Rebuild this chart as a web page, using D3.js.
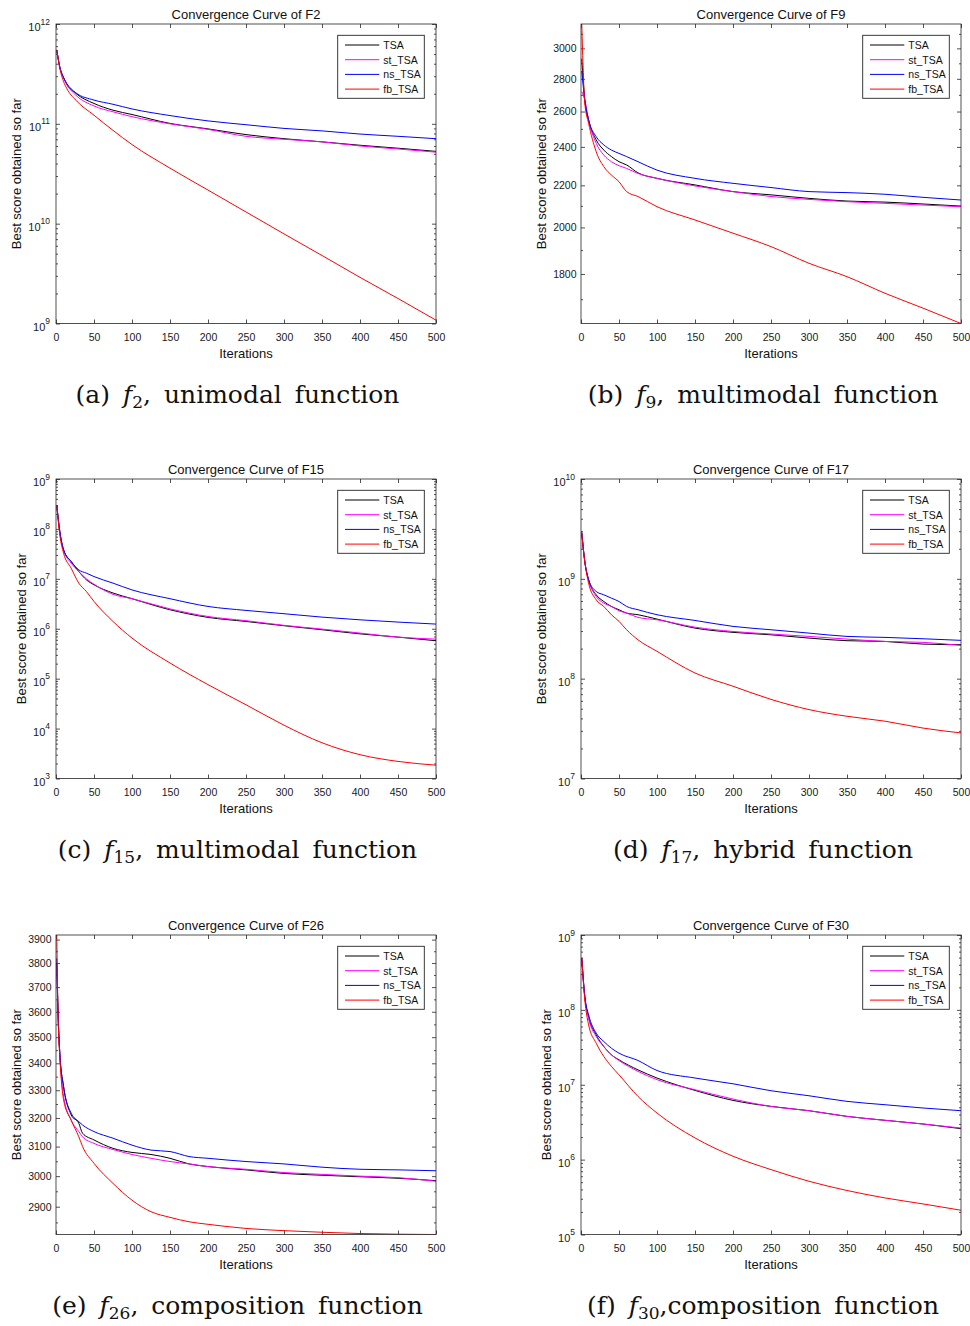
<!DOCTYPE html>
<html>
<head>
<meta charset="utf-8">
<script src="https://cdn.jsdelivr.net/npm/d3@7"></script>
<style>
  body { margin: 0; background: #fff; }
  text { font-family: "Liberation Sans", Arial, sans-serif; }
</style>
</head>
<body>
<div id="chart"></div>
<script>
// ---- data ----
var algos  = ["TSA", "st_TSA", "ns_TSA", "fb_TSA"];
var colors = ["#000000", "#ff00ff", "#0000ff", "#ff0000"];
var xTicks = [0, 50, 100, 150, 200, 250, 300, 350, 400, 450, 500];

// F2
var itF2   = [1, 5, 10, 14, 26, 50, 75, 100, 150, 200, 250, 300, 350, 400, 450, 500];
var f2TSA  = [5.5e11, 3.7e11, 2.9e11, 2.5e11, 2.02e11, 1.6e11, 1.37e11, 1.24e11, 1.01e11, 8.9e10, 7.8e10, 7.1e10, 6.6e10, 6.1e10, 5.7e10, 5.3e10];
var f2st   = [5.5e11, 3.7e11, 2.9e11, 2.5e11, 1.94e11, 1.51e11, 1.32e11, 1.18e11, 1.0e11, 8.8e10, 7.5e10, 7.0e10, 6.6e10, 6.0e10, 5.6e10, 5.2e10];
var f2ns   = [5.5e11, 3.7e11, 2.9e11, 2.55e11, 2.05e11, 1.73e11, 1.57e11, 1.41e11, 1.21e11, 1.07e11, 9.8e10, 9.0e10, 8.5e10, 7.9e10, 7.5e10, 7.1e10];
var f2fb   = [5.5e11, 3.6e11, 2.65e11, 2.27e11, 1.73e11, 1.22e11, 8.6e10, 6.2e10, 3.6e10, 2.17e10, 1.31e10, 7.9e9, 4.8e9, 2.9e9, 1.78e9, 1.08e9];
var f2Domain = [1e9, 1e12];
var f2Ticks  = [1e9, 1e10, 1e11, 1e12];

// F9
var itF9   = [1, 5, 10, 20, 30, 40, 50, 60, 75, 100, 150, 200, 250, 300, 350, 400, 450, 500];
var f9TSA  = [2930, 2669, 2551, 2438, 2383, 2348, 2321, 2304, 2263, 2235, 2202, 2169, 2153, 2136, 2123, 2118, 2109, 2099];
var f9st   = [2720, 2669, 2551, 2420, 2356, 2321, 2300, 2286, 2260, 2235, 2197, 2169, 2145, 2131, 2120, 2112, 2104, 2096];
var f9ns   = [2850, 2669, 2551, 2456, 2411, 2383, 2365, 2348, 2321, 2277, 2235, 2210, 2189, 2169, 2164, 2156, 2141, 2128];
var f9fb   = [3170, 2649, 2532, 2374, 2295, 2252, 2218, 2169, 2145, 2096, 2034, 1974, 1915, 1844, 1789, 1723, 1666, 1609];
var f9Domain = [1609, 3170];
var f9Ticks  = [1800, 2000, 2200, 2400, 2600, 2800, 3000];

// F15
var itF15  = [1, 5, 10, 20, 30, 40, 50, 75, 100, 150, 200, 250, 300, 350, 400, 450, 500];
var f15TSA = [3.0e8, 8.9e7, 3.8e7, 2.22e7, 1.40e7, 9.55e6, 7.6e6, 5.2e6, 4.0e6, 2.4e6, 1.69e6, 1.40e6, 1.15e6, 9.55e5, 7.9e5, 6.8e5, 5.75e5];
var f15st  = [3.0e8, 8.9e7, 3.8e7, 2.06e7, 1.40e7, 1.0e7, 7.8e6, 4.9e6, 4.0e6, 2.5e6, 1.76e6, 1.45e6, 1.17e6, 9.85e5, 8.2e5, 6.8e5, 6.2e5];
var f15ns  = [3.0e8, 8.9e7, 3.8e7, 2.22e7, 1.51e7, 1.30e7, 1.11e7, 8.2e6, 6.0e6, 4.0e6, 2.8e6, 2.33e6, 2.0e6, 1.71e6, 1.51e6, 1.36e6, 1.24e6];
var f15fb  = [3.0e8, 7.6e7, 3.26e7, 1.63e7, 8.2e6, 5.58e6, 3.52e6, 1.40e6, 6.5e5, 2.06e5, 7.6e4, 3.0e4, 1.17e4, 5.2e3, 3.0e3, 2.2e3, 1.85e3];
var f15Domain = [1e3, 1e9];
var f15Ticks  = [1e3, 1e4, 1e5, 1e6, 1e7, 1e8, 1e9];

// F17
var itF17  = [1, 5, 10, 20, 30, 40, 50, 60, 75, 100, 150, 200, 250, 300, 350, 400, 450, 500];
var f17TSA = [2.86e9, 1.49e9, 9.8e8, 6.92e8, 5.93e8, 5.29e8, 4.90e8, 4.54e8, 4.37e8, 3.95e8, 3.21e8, 2.91e8, 2.75e8, 2.55e8, 2.40e8, 2.36e8, 2.22e8, 2.19e8];
var f17st  = [2.86e9, 1.49e9, 9.8e8, 6.66e8, 5.71e8, 5.29e8, 4.79e8, 4.54e8, 4.11e8, 3.89e8, 3.28e8, 2.97e8, 2.80e8, 2.65e8, 2.49e8, 2.36e8, 2.31e8, 2.15e8];
var f17ns  = [2.97e9, 1.49e9, 9.8e8, 7.47e8, 6.92e8, 6.41e8, 5.93e8, 5.29e8, 4.90e8, 4.37e8, 3.83e8, 3.34e8, 3.09e8, 2.86e8, 2.65e8, 2.59e8, 2.51e8, 2.42e8];
var f17fb  = [2.86e9, 1.49e9, 9.05e8, 6.17e8, 5.29e8, 4.37e8, 3.75e8, 3.09e8, 2.45e8, 1.88e8, 1.14e8, 8.4e7, 6.2e7, 4.9e7, 4.2e7, 3.75e7, 3.2e7, 2.86e7];
var f17Domain = [1e7, 1e10];
var f17Ticks  = [1e7, 1e8, 1e9, 1e10];

// F26
var itF26  = [1, 3, 5, 10, 20, 30, 35, 50, 75, 100, 125, 150, 175, 200, 250, 300, 350, 400, 450, 500];
var f26TSA = [3800, 3567, 3438, 3313, 3211, 3181, 3146, 3123, 3094, 3080, 3073, 3060, 3041, 3032, 3021, 3009, 3003, 2998, 2993, 2985];
var f26st  = [3780, 3567, 3438, 3277, 3192, 3152, 3134, 3111, 3090, 3073, 3060, 3049, 3041, 3032, 3023, 3012, 3006, 3000, 2995, 2983];
var f26ns  = [3820, 3567, 3438, 3313, 3217, 3187, 3175, 3152, 3129, 3105, 3088, 3083, 3066, 3060, 3049, 3041, 3030, 3023, 3021, 3018];
var f26fb  = [3920, 3550, 3425, 3265, 3192, 3134, 3100, 3043, 2976, 2921, 2884, 2866, 2852, 2844, 2831, 2824, 2819, 2815, 2813, 2812];
var f26Domain = [2812, 3920];
var f26Ticks  = [2900, 3000, 3100, 3200, 3300, 3400, 3500, 3600, 3700, 3800, 3900];

// F30
var itF30  = [1, 5, 10, 20, 30, 40, 50, 75, 100, 150, 200, 250, 300, 350, 400, 450, 500];
var f30TSA = [4.9e8, 1.51e8, 7.98e7, 4.64e7, 3.24e7, 2.51e7, 2.15e7, 1.58e7, 1.23e7, 8.4e6, 6.18e6, 5.14e6, 4.5e6, 3.78e6, 3.35e6, 2.99e6, 2.59e6];
var f30st  = [4.9e8, 1.51e8, 7.74e7, 4.41e7, 3.24e7, 2.51e7, 2.11e7, 1.51e7, 1.17e7, 8.58e6, 6.44e6, 5.14e6, 4.5e6, 3.78e6, 3.35e6, 2.99e6, 2.64e6];
var f30ns  = [4.9e8, 1.51e8, 8.58e7, 4.89e7, 3.78e7, 3.08e7, 2.64e7, 2.11e7, 1.55e7, 1.23e7, 1.03e7, 8.32e6, 7.13e6, 6.0e6, 5.41e6, 4.89e6, 4.5e6];
var f30fb  = [4.9e8, 1.36e8, 6.31e7, 3.59e7, 2.39e7, 1.76e7, 1.36e7, 6.98e6, 4.19e6, 1.95e6, 1.11e6, 7.36e5, 5.14e5, 3.87e5, 3.08e5, 2.56e5, 2.11e5];
var f30Domain = [1e5, 1e9];
var f30Ticks  = [1e5, 1e6, 1e7, 1e8, 1e9];

// captions
var capLabels = ["(a)", "(b)", "(c)", "(d)", "(e)", "(f)"];
var capSubs   = ["2", "9", "15", "17", "26", "30"];
var capTexts  = [", unimodal function", ", multimodal function", ", multimodal function",
                 ", hybrid function", ", composition function", ",composition function"];

var panels = [
  {name: "F2",  iters: itF2,  series: [f2TSA, f2st, f2ns, f2fb],     domain: f2Domain,  ticks: f2Ticks,  log: true},
  {name: "F9",  iters: itF9,  series: [f9TSA, f9st, f9ns, f9fb],     domain: f9Domain,  ticks: f9Ticks,  log: false, minorStep: 100},
  {name: "F15", iters: itF15, series: [f15TSA, f15st, f15ns, f15fb], domain: f15Domain, ticks: f15Ticks, log: true},
  {name: "F17", iters: itF17, series: [f17TSA, f17st, f17ns, f17fb], domain: f17Domain, ticks: f17Ticks, log: true},
  {name: "F26", iters: itF26, series: [f26TSA, f26st, f26ns, f26fb], domain: f26Domain, ticks: f26Ticks, log: false, minorStep: 50},
  {name: "F30", iters: itF30, series: [f30TSA, f30st, f30ns, f30fb], domain: f30Domain, ticks: f30Ticks, log: true}
];

// ---- layout ----
var svg = d3.select("#chart").append("svg")
            .attr("width", 970)
            .attr("height", 1326)
            .style("background-color", "white");

var colX = [56, 581], rowY = [24, 479, 935];
var pw = 380, ph = 299.5;
var capX = [237.5, 763];
var frameColor = "#262626";

function styleAxis(g) {
  g.select(".domain").remove();
  g.selectAll(".tick line").attr("stroke", frameColor).attr("stroke-width", 0.8);
  g.selectAll("text").attr("fill", "#1a1a1a").style("font-size", "10.5px")
   .style("font-family", "'Liberation Sans', Arial, sans-serif");
}

panels.forEach(function(p, idx) {
  var left = colX[idx % 2], top = rowY[Math.floor(idx / 2)];
  var right = left + pw, bottom = top + ph;

  var x = d3.scaleLinear().domain([0, 500]).range([left, right]);
  var y = d3.scaleLog().domain(p.domain).range([bottom, top]);

  var minor;
  if (p.log) {
    minor = [];
    var e0 = Math.round(Math.log10(p.domain[0])), e1 = Math.round(Math.log10(p.domain[1]));
    for (var e = e0; e < e1; e++) for (var k = 2; k <= 9; k++) minor.push(k * Math.pow(10, e));
  } else {
    minor = d3.range(Math.ceil(p.domain[0] / p.minorStep) * p.minorStep, p.domain[1], p.minorStep)
              .filter(function(v) { return p.ticks.indexOf(v) < 0; });
  }

  var g = svg.append("g");

  g.append("clipPath").attr("id", "clip" + idx)
   .append("rect").attr("x", left).attr("y", top).attr("width", pw).attr("height", ph);

  // bottom axis with labels
  g.append("g").attr("transform", "translate(0," + bottom + ")")
   .call(d3.axisBottom(x).tickValues(xTicks).tickSize(-4).tickPadding(10.5).tickFormat(d3.format("d")))
   .call(styleAxis);
  // top ticks
  g.append("g").attr("transform", "translate(0," + top + ")")
   .call(d3.axisTop(x).tickValues(xTicks).tickSize(-4).tickFormat(""))
   .call(styleAxis);

  // left axis
  var yAxisG = g.append("g").attr("transform", "translate(" + left + ",0)")
   .call(d3.axisLeft(y).tickValues(p.ticks).tickSize(-4).tickPadding(p.log ? 6 : 4.5)
          .tickFormat(p.log ? function() { return ""; } : d3.format("d")))
   .call(styleAxis);
  if (p.log) {
    yAxisG.selectAll(".tick text").each(function(d) {
      var t = d3.select(this);
      t.attr("dy", null).attr("y", 6.5).style("font-size", "11px");
      t.append("tspan").text("10");
      t.append("tspan").attr("dy", -6.5).style("font-size", "8.5px").text(Math.round(Math.log10(d)));
    });
  }
  g.append("g").attr("transform", "translate(" + left + ",0)")
   .call(d3.axisLeft(y).tickValues(minor).tickSize(-2).tickFormat(""))
   .call(styleAxis);
  // right ticks
  g.append("g").attr("transform", "translate(" + right + ",0)")
   .call(d3.axisRight(y).tickValues(p.ticks).tickSize(-4).tickFormat(""))
   .call(styleAxis);
  g.append("g").attr("transform", "translate(" + right + ",0)")
   .call(d3.axisRight(y).tickValues(minor).tickSize(-2).tickFormat(""))
   .call(styleAxis);

  // curves
  var lineGen = d3.line()
      .x(function(d, i) { return x(p.iters[i]); })
      .y(function(d) { return y(d); })
      .curve(d3.curveMonotoneX);
  p.series.forEach(function(s, si) {
    g.append("path")
     .attr("d", lineGen(s))
     .attr("clip-path", "url(#clip" + idx + ")")
     .attr("fill", "none")
     .attr("stroke", colors[si])
     .attr("stroke-width", 1);
  });

  // frame
  g.append("rect")
   .attr("x", left).attr("y", top).attr("width", pw).attr("height", ph)
   .attr("fill", "none").attr("stroke", frameColor).attr("stroke-width", 0.8);

  // title
  g.append("text")
   .attr("text-anchor", "middle")
   .attr("x", left + pw / 2).attr("y", top - 5.5)
   .style("font-size", "13px").attr("fill", "#111")
   .text("Convergence Curve of " + p.name);

  // x label
  g.append("text")
   .attr("text-anchor", "middle")
   .attr("x", left + pw / 2).attr("y", bottom + 34.5)
   .style("font-size", "13px").attr("fill", "#111")
   .text("Iterations");

  // y label, placed left of the tick labels
  var bb = yAxisG.node().getBBox();
  var ylx = left + bb.x - 7.3;
  g.append("text")
   .attr("text-anchor", "middle")
   .attr("transform", "translate(" + ylx + "," + (top + ph / 2) + ") rotate(-90)")
   .style("font-size", "13px").attr("fill", "#111")
   .text("Best score obtained so far");

  // legend
  var lw = 86.6, lh = 63;
  var lx = right - 11.7 - lw, ly = top + 11.3;
  var leg = g.append("g");
  leg.append("rect").attr("x", lx).attr("y", ly).attr("width", lw).attr("height", lh)
     .attr("fill", "white").attr("stroke", "#262626").attr("stroke-width", 0.9);
  algos.forEach(function(a, ai) {
    var ey = ly + 9.7 + ai * 14.7;
    leg.append("line")
       .attr("x1", lx + 7.3).attr("x2", lx + 41.6)
       .attr("y1", ey).attr("y2", ey)
       .attr("stroke", colors[ai]).attr("stroke-width", 1);
    leg.append("text")
       .attr("x", lx + 45.6).attr("y", ey + 3.8)
       .style("font-size", "10.5px").attr("fill", "#111")
       .text(a);
  });

  // caption
  var cap = svg.append("text")
     .attr("text-anchor", "middle")
     .attr("x", capX[idx % 2]).attr("y", top + 379)
     .style("font-family", "'DejaVu Serif', 'Liberation Serif', serif")
     .style("font-size", "25px")
     .style("word-spacing", "5px")
     .attr("fill", "#111");
  cap.append("tspan").text(capLabels[idx] + " ");
  cap.append("tspan").style("font-style", "italic").text("f");
  cap.append("tspan").attr("dy", 5).style("font-size", "17px").text(capSubs[idx]);
  cap.append("tspan").attr("dy", -5).text(capTexts[idx]);
});
</script>
</body>
</html>
